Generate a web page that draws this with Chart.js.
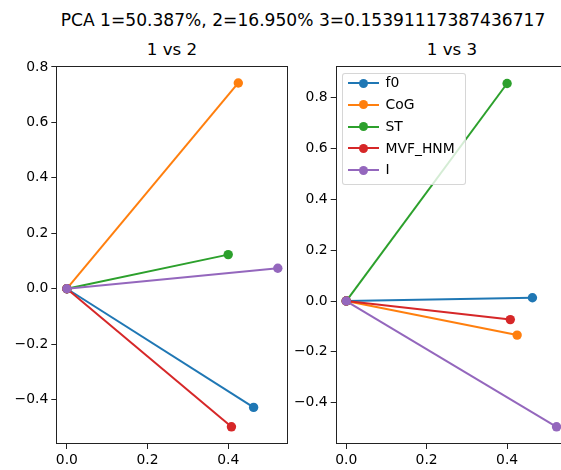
<!DOCTYPE html>
<html>
<head>
<meta charset="utf-8">
<script src="https://cdn.jsdelivr.net/npm/chart.js@4"></script>
<style>
  html,body{margin:0;padding:0;background:#fff;}
  body{width:561px;height:470px;overflow:hidden;position:relative;font-family:"DejaVu Sans",sans-serif;color:#000;}
  canvas{position:absolute;}
  .ttl{position:absolute;font-size:16.7px;line-height:16.7px;white-space:nowrap;text-align:center;}
  #legend{position:absolute;left:341.5px;top:72.5px;width:122px;height:110px;background:rgba(255,255,255,0.8);border:1px solid rgba(204,204,204,0.8);border-radius:3px;}
  .lrow{position:absolute;left:0;height:21.7px;line-height:21.7px;font-size:13.9px;white-space:nowrap;}
  .lline{position:absolute;left:5px;width:31.6px;height:2px;}
  .ldot{position:absolute;left:16.3px;width:9px;height:9px;border-radius:50%;}
  .ltxt{position:absolute;left:43px;}
</style>
</head>
<body>
<div class="ttl" style="left:0;width:606px;top:12.3px;font-size:17.1px">PCA 1=50.387%, 2=16.950% 3=0.15391117387436717</div>
<div class="ttl" style="left:56px;width:232px;top:41px">1 vs 2</div>
<div class="ttl" style="left:336px;width:232px;top:41px">1 vs 3</div>
<canvas id="c12" width="300" height="415" style="left:0;top:55px"></canvas>
<canvas id="c13" width="310" height="415" style="left:280px;top:55px"></canvas>
<div id="legend"></div>
<script>
/* ===== DATA ===== */
const names=['f0','CoG','ST','MVF_HNM','I'];
const colors=['#1f77b4','#ff7f0e','#2ca02c','#d62728','#9467bd'];
const pc1=[0.463,0.425,0.400,0.408,0.523];
const pc2=[-0.428,0.742,0.123,-0.498,0.074];
const pc3=[0.013,-0.134,0.856,-0.073,-0.495];
const xTicks=[0,0.2,0.4];
const yTicks=[-0.4,-0.2,0,0.2,0.4,0.6,0.8];

const fmt=v=>(v<-1e-9?'\u2212':'')+Math.abs(v).toFixed(1);
const tickFont={family:'DejaVu Sans',size:13.9};

// matplotlib-like box around the axes
const frame={
  id:'frame',
  afterDraw(c){
    const a=c.chartArea,ctx=c.ctx;
    ctx.save();
    ctx.strokeStyle='#222';ctx.lineWidth=1;
    const l=Math.round(a.left)+0.5,t=Math.round(a.top)+0.5,r=Math.round(a.right)-0.5,b=Math.round(a.bottom)-0.5;
    ctx.strokeRect(l,t,r-l,b-t);
    ctx.restore();
  }
};

function makeChart(id,ys,yMin,yMax,xMin,xMax,yW,padR){
  const datasets=names.map((n,i)=>({
    label:n,
    data:[{x:0,y:0},{x:pc1[i],y:ys[i]}],
    borderColor:colors[i],backgroundColor:colors[i],
    borderWidth:2,pointRadius:4.7,pointBorderWidth:0,pointHoverRadius:4.7,
    showLine:true,order:names.length-i
  }));
  const axis=(min,max,ticks,fit)=>({
    type:'linear',min,max,
    afterBuildTicks:s=>{s.ticks=ticks.map(v=>({value:v}));},
    afterFit:fit,
    grid:{drawOnChartArea:false,drawTicks:true,tickLength:5,color:'#222',lineWidth:1},
    border:{display:false},
    ticks:{color:'#000',font:tickFont,padding:3,maxRotation:0,autoSkip:false,callback:v=>fmt(v)}
  });
  return new Chart(document.getElementById(id),{
    type:'scatter',
    data:{datasets},
    options:{
      responsive:false,animation:false,devicePixelRatio:1,
      layout:{padding:{top:10,right:padR,bottom:0,left:0}},
      plugins:{legend:{display:false},tooltip:{enabled:false}},
      scales:{
        x:axis(xMin,xMax,xTicks,s=>{s.height=26;}),
        y:axis(yMin,yMax,yTicks,s=>{s.width=yW;})
      }
    },
    plugins:[frame]
  });
}

makeChart('c12',pc2,-0.560,0.802,-0.0262,0.549,56.3,11.7);
makeChart('c13',pc3,-0.5626,0.9236,-0.0262,0.549,55.7,23);

// legend inside the right axes
const lg=document.getElementById('legend');
names.forEach((n,i)=>{
  const row=document.createElement('div');
  row.className='lrow';
  row.style.top=(83.3-73.5-10.85+21.7*i)+'px';
  row.style.width='120px';
  row.innerHTML=`<div class="lline" style="top:9.85px;background:${colors[i]}"></div>`+
    `<div class="ldot" style="top:6.35px;background:${colors[i]}"></div>`+
    `<span class="ltxt">${n}</span>`;
  lg.appendChild(row);
});
</script>
</body>
</html>
